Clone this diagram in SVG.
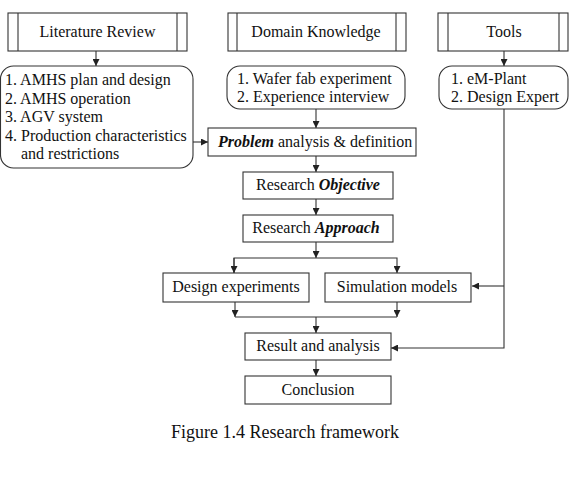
<svg xmlns="http://www.w3.org/2000/svg" width="574" height="478" viewBox="0 0 574 478">
<style>
.b{fill:#fff;stroke:#333;stroke-width:1.1}
.l{fill:none;stroke:#333;stroke-width:1.1}
text{font-family:"Liberation Serif","Times New Roman",serif;font-size:16px;fill:#111}
.c{text-anchor:middle}
.bi{font-weight:bold;font-style:italic}
</style>
<defs>
<marker id="a" viewBox="0 0 8 8" refX="8" refY="4" markerWidth="7" markerHeight="7" markerUnits="userSpaceOnUse" orient="auto">
<path d="M0,0 L8,4 L0,8 z" fill="#222"/>
</marker>
</defs>
<rect width="574" height="478" fill="#fff"/>
<g id="connectors" class="l">
<line x1="96" y1="51" x2="96" y2="66" marker-end="url(#a)"/>
<line x1="504" y1="51" x2="504" y2="66" marker-end="url(#a)"/>
<line x1="193" y1="142" x2="208" y2="142" marker-end="url(#a)"/>
<line x1="316" y1="109" x2="316" y2="128" marker-end="url(#a)"/>
<line x1="316" y1="156" x2="316" y2="172" marker-end="url(#a)"/>
<line x1="316" y1="199" x2="316" y2="215" marker-end="url(#a)"/>
<line x1="316" y1="242" x2="316" y2="258" marker-end="url(#a)"/>
<polyline points="234,273 234,258 397,258 397,273" marker-end="url(#a)"/>
<line x1="234" y1="258" x2="234" y2="273" marker-end="url(#a)"/>
<line x1="235" y1="302" x2="235" y2="317" marker-end="url(#a)"/>
<line x1="397" y1="302" x2="397" y2="317" marker-end="url(#a)"/>
<line x1="235" y1="317" x2="397" y2="317"/>
<line x1="316" y1="317" x2="316" y2="333" marker-end="url(#a)"/>
<line x1="316" y1="360" x2="316" y2="376" marker-end="url(#a)"/>
<polyline points="504,109 504,348 391,348" marker-end="url(#a)"/>
<line x1="504" y1="286" x2="472" y2="286" marker-end="url(#a)"/>
</g>
<g id="literature-review">
<rect class="b" x="8" y="13" width="179" height="38"/>
<line class="l" x1="18" y1="13" x2="18" y2="51"/>
<line class="l" x1="177" y1="13" x2="177" y2="51"/>
<text class="c" x="97.5" y="37">Literature Review</text>
</g>
<g id="literature-items">
<rect class="b" x="0.5" y="66" width="192.5" height="102" rx="13"/>
<text x="5" y="85">1. AMHS plan and design</text>
<text x="5" y="103.5">2. AMHS operation</text>
<text x="5" y="122">3. AGV system</text>
<text x="5" y="140.5">4. Production characteristics</text>
<text x="21" y="159">and restrictions</text>
</g>
<g id="domain-knowledge">
<rect class="b" x="228" y="13" width="178" height="38"/>
<line class="l" x1="237" y1="13" x2="237" y2="51"/>
<line class="l" x1="396" y1="13" x2="396" y2="51"/>
<text class="c" x="316" y="37">Domain Knowledge</text>
</g>
<g id="domain-items">
<rect class="b" x="227" y="66" width="178" height="43" rx="13"/>
<text x="237" y="84">1. Wafer fab experiment</text>
<text x="237" y="102">2. Experience interview</text>
</g>
<g id="tools">
<rect class="b" x="438" y="13" width="130" height="38"/>
<line class="l" x1="448" y1="13" x2="448" y2="51"/>
<line class="l" x1="559" y1="13" x2="559" y2="51"/>
<text class="c" x="504" y="37">Tools</text>
</g>
<g id="tools-items">
<rect class="b" x="439" y="66" width="129" height="43" rx="13"/>
<text x="451" y="84">1. eM-Plant</text>
<text x="451" y="102">2. Design Expert</text>
</g>
<g id="problem">
<rect class="b" x="208" y="128" width="208" height="28"/>
<text x="218" y="147"><tspan class="bi">Problem</tspan> analysis &amp; definition</text>
</g>
<g id="objective">
<rect class="b" x="243" y="172" width="150" height="27"/>
<text class="c" x="318" y="190">Research <tspan class="bi">Objective</tspan></text>
</g>
<g id="approach">
<rect class="b" x="243" y="215" width="150" height="27"/>
<text class="c" x="316" y="233">Research <tspan class="bi">Approach</tspan></text>
</g>
<g id="design-experiments">
<rect class="b" x="163" y="273" width="146" height="29"/>
<text class="c" x="236" y="292">Design experiments</text>
</g>
<g id="simulation-models">
<rect class="b" x="325" y="273" width="146" height="29"/>
<text class="c" x="397" y="292">Simulation models</text>
</g>
<g id="result">
<rect class="b" x="245" y="333" width="146" height="27"/>
<text class="c" x="318" y="351">Result and analysis</text>
</g>
<g id="conclusion">
<rect class="b" x="245" y="376" width="146" height="28"/>
<text class="c" x="318" y="395">Conclusion</text>
</g>
<text x="171" y="438" style="font-size:18px">Figure 1.4 Research framework</text>
</svg>
